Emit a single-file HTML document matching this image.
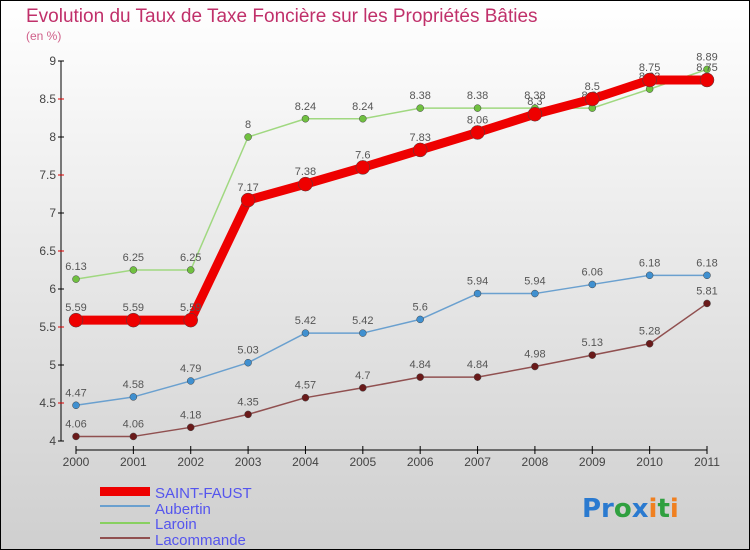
<!DOCTYPE html>
<html><head><meta charset="utf-8"><style>
body{margin:0}
#c{width:750px;height:550px;position:relative;background:linear-gradient(#ffffff,#cfcfcf);box-sizing:border-box;border:1px solid #000;overflow:hidden;font-family:"Liberation Sans",sans-serif}
</style></head><body>
<div id="c">
<svg id="s" width="750" height="550" style="position:absolute;left:-1px;top:-1px">
<text x="26" y="22" font-size="19" fill="#c0306a">Evolution du Taux de Taxe Foncière sur les Propriétés Bâties</text>
<text x="26" y="40" font-size="12" fill="#d0608a">(en %)</text>
<g id="axes"></g><g id="series"></g>
<g>
<rect x="100" y="487" width="50" height="9" fill="#ee0000"/>
<text x="155" y="498" font-size="15" fill="#5555ee">SAINT-FAUST</text>
<line x1="100" y1="546" x2="150" y2="546" stroke="#6aa0cf" stroke-width="2" transform="translate(0,-40)"/>
<text x="155" y="514" font-size="15" fill="#5555ee">Aubertin</text>
<line x1="100" y1="523" x2="150" y2="523" stroke="#88d060" stroke-width="2"/>
<text x="155" y="529" font-size="15" fill="#5555ee">Laroin</text>
<line x1="100" y1="538" x2="150" y2="538" stroke="#905050" stroke-width="2"/>
<text x="155" y="545" font-size="15" fill="#5555ee">Lacommande</text>
</g>
<text x="582" y="517" font-size="26" font-family="DejaVu Sans" font-weight="bold"><tspan fill="#2a7ad0">Pr</tspan><tspan fill="#30a040">o</tspan><tspan fill="#2a7ad0">x</tspan><tspan fill="#f08020">i</tspan><tspan fill="#30a040">t</tspan><tspan fill="#f08020">i</tspan></text>
</svg></div>
<script>
const years=[2000,2001,2002,2003,2004,2005,2006,2007,2008,2009,2010,2011];
const yTicks=[4,4.5,5,5.5,6,6.5,7,7.5,8,8.5,9];
const saintFaust=[5.59,5.59,5.59,7.17,7.38,7.6,7.83,8.06,8.3,8.5,8.75,8.75];
const aubertin=[4.47,4.58,4.79,5.03,5.42,5.42,5.6,5.94,5.94,6.06,6.18,6.18];
const laroin=[6.13,6.25,6.25,8,8.24,8.24,8.38,8.38,8.38,8.38,8.63,8.89];
const lacommande=[4.06,4.06,4.18,4.35,4.57,4.7,4.84,4.84,4.98,5.13,5.28,5.81];
const NS="http://www.w3.org/2000/svg";
const X=i=>76+i*(707-76)/11, Y=v=>441-(v-4)*76;
function mk(t,a,p){const e=document.createElementNS(NS,t);for(const k in a)e.setAttribute(k,a[k]);p.appendChild(e);return e;}
const ax=document.getElementById('axes'), sg=document.getElementById('series');
let l=mk('line',{x1:61,y1:61,x2:61,y2:441,stroke:'#000'},ax);

yTicks.forEach(v=>{
 let t=mk('line',{x1:58,x2:64,y1:Y(v),y2:Y(v),stroke:v%1===0||v===4?'#000':'#d00'},ax);
 
 let tx=mk('text',{x:56,y:Y(v)+4,'font-size':12,'text-anchor':'end',fill:'#444'},ax);tx.textContent=v;
 
});
l=mk('line',{x1:76,y1:450,x2:707,y2:450,stroke:'#000'},ax);

years.forEach((y,i)=>{
 let t=mk('line',{x1:X(i),x2:X(i),y1:446,y2:454,stroke:'#000'},ax);
 
 let tx=mk('text',{x:X(i),y:466,'font-size':12,'text-anchor':'middle',fill:'#444'},ax);tx.textContent=y;
 
});
function series(vals,color,w,r,dot,name){
 const g=mk('g',{},sg);
 
 const p=mk('polyline',{points:vals.map((v,i)=>X(i)+','+Y(v)).join(' '),fill:'none',stroke:color,'stroke-width':w,'stroke-linejoin':'round'},g);
 
 vals.forEach((v,i)=>{
  const c=mk('circle',{cx:X(i),cy:Y(v),r:r,fill:dot,stroke:'#444','stroke-width':0.5},g);
  
  const t=mk('text',{x:X(i),y:Y(v)-9,'font-size':11,'text-anchor':'middle',fill:'#555'},g);t.textContent=v;
  
 });
}
series(lacommande,'#905050',1.5,3.5,'#6a1a1a','lacommande');
series(aubertin,'#6aa0cf',1.5,3.5,'#4090d0','aubertin');
series(laroin,'#a0d880',1.5,3.5,'#70c040','laroin');
series(saintFaust,'#ee0000',9,7,'#ee0000','saint-faust');
</script>
</body></html>
